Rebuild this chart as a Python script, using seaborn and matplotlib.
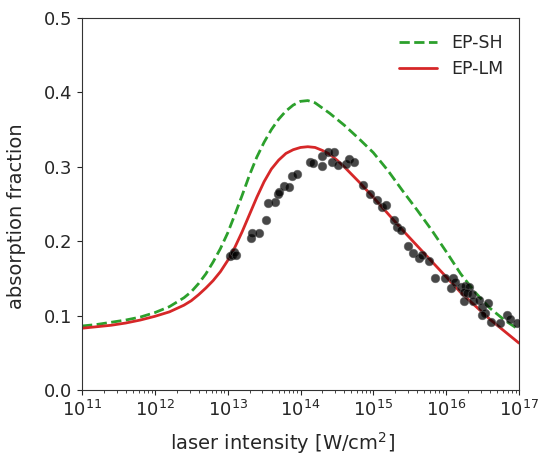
import numpy as np
import pandas as pd
import matplotlib
matplotlib.use("Agg")
import matplotlib.pyplot as plt
import seaborn as sns

# Model curves (log10 intensity grid, absorption fraction)
curve_log_I = [11.0, 11.2, 11.4, 11.6, 11.8, 12.0, 12.2, 12.4, 12.5, 12.6,
               12.7, 12.8, 12.9, 13.0, 13.1, 13.2, 13.3, 13.4, 13.5, 13.6,
               13.7, 13.8, 13.9, 14.0, 14.1, 14.2, 14.3, 14.4, 14.5, 14.6,
               14.8, 15.0, 15.2, 15.4, 15.6, 15.8, 16.0, 16.2, 16.4, 16.6,
               16.8, 17.0]
ep_sh = [0.086, 0.088, 0.091, 0.094, 0.098, 0.104, 0.112, 0.124, 0.132, 0.143,
         0.156, 0.172, 0.190, 0.211, 0.236, 0.262, 0.289, 0.313, 0.333, 0.350,
         0.364, 0.375, 0.383, 0.388, 0.389, 0.386, 0.379, 0.372, 0.364, 0.356,
         0.338, 0.319, 0.295, 0.268, 0.242, 0.215, 0.186, 0.156, 0.131, 0.110,
         0.094, 0.081]
ep_lm = [0.083, 0.085, 0.087, 0.090, 0.094, 0.099, 0.105, 0.114, 0.120, 0.128,
         0.137, 0.147, 0.159, 0.174, 0.192, 0.213, 0.236, 0.259, 0.280, 0.297,
         0.309, 0.318, 0.323, 0.326, 0.327, 0.326, 0.322, 0.317, 0.309, 0.300,
         0.280, 0.259, 0.237, 0.215, 0.194, 0.173, 0.152, 0.131, 0.113, 0.095,
         0.079, 0.063]

# Experimental points
exp_log_I = [13.03, 13.06, 13.09, 13.12, 13.32, 13.34, 13.43, 13.53, 13.55, 13.65,
             13.69, 13.70, 13.78, 13.84, 13.88, 13.95, 14.13, 14.17, 14.30, 14.30,
             14.38, 14.46, 14.43, 14.52, 14.62, 14.66, 14.73, 14.86, 14.95, 15.05,
             15.12, 15.17, 15.28, 15.32, 15.38, 15.47, 15.54, 15.62, 15.67, 15.76,
             15.85, 15.99, 16.10, 16.07, 16.12, 16.21, 16.26, 16.32, 16.24, 16.28,
             16.35, 16.25, 16.37, 16.45, 16.49, 16.58, 16.53, 16.49, 16.62, 16.74,
             16.83, 16.87, 16.97]
exp_abs = [0.180, 0.182, 0.185, 0.181, 0.204, 0.211, 0.211, 0.228, 0.252, 0.253,
           0.264, 0.266, 0.274, 0.273, 0.287, 0.290, 0.306, 0.305, 0.314, 0.301,
           0.320, 0.320, 0.307, 0.302, 0.304, 0.310, 0.306, 0.275, 0.263, 0.255,
           0.246, 0.249, 0.228, 0.219, 0.215, 0.194, 0.184, 0.177, 0.182, 0.174,
           0.150, 0.151, 0.150, 0.137, 0.145, 0.139, 0.140, 0.138, 0.132, 0.130,
           0.129, 0.119, 0.119, 0.121, 0.112, 0.117, 0.103, 0.101, 0.092, 0.090,
           0.101, 0.095, 0.090]

sns.set_style("ticks")
plt.rcParams['font.family'] = ['DejaVu Sans']

fig = plt.figure(figsize=(5.42, 4.55), dpi=100)
ax = fig.add_axes([0.1513, 0.1429, 0.8063, 0.8175])

curves = pd.DataFrame({"I": np.power(10.0, curve_log_I), "sh": ep_sh, "lm": ep_lm})
pts = pd.DataFrame({"I": np.power(10.0, exp_log_I), "a": exp_abs})

sns.lineplot(data=curves, x="I", y="sh", ax=ax, color="#2ca02c", lw=2,
             linestyle="--", label="EP-SH")
sns.lineplot(data=curves, x="I", y="lm", ax=ax, color="#d62728", lw=2,
             label="EP-LM")
sns.scatterplot(data=pts, x="I", y="a", ax=ax, color="black", alpha=0.72,
                s=38, edgecolor="0.35", linewidth=0.5, zorder=3)

ax.set_xscale("log")
ax.set_xlim(1e11, 1e17)
ax.set_ylim(0, 0.5)
ax.set_yticks([0.0, 0.1, 0.2, 0.3, 0.4, 0.5])
ax.set_yticklabels(["0.0", "0.1", "0.2", "0.3", "0.4", "0.5"])
ax.tick_params(labelsize=13)
ax.set_xlabel("laser intensity [W/cm$^2$]", fontsize=14)
ax.set_ylabel("absorption fraction", fontsize=14)
ax.xaxis.set_label_coords(0.458, -0.108)
ax.yaxis.set_label_coords(-0.128, 0.468)
for s in ax.spines.values():
    s.set_visible(True)
    s.set_color("0.2")

leg = ax.legend(loc="upper right", frameon=False, fontsize=12.5, handlelength=2.2)

fig.savefig("out.png", dpi=100)
